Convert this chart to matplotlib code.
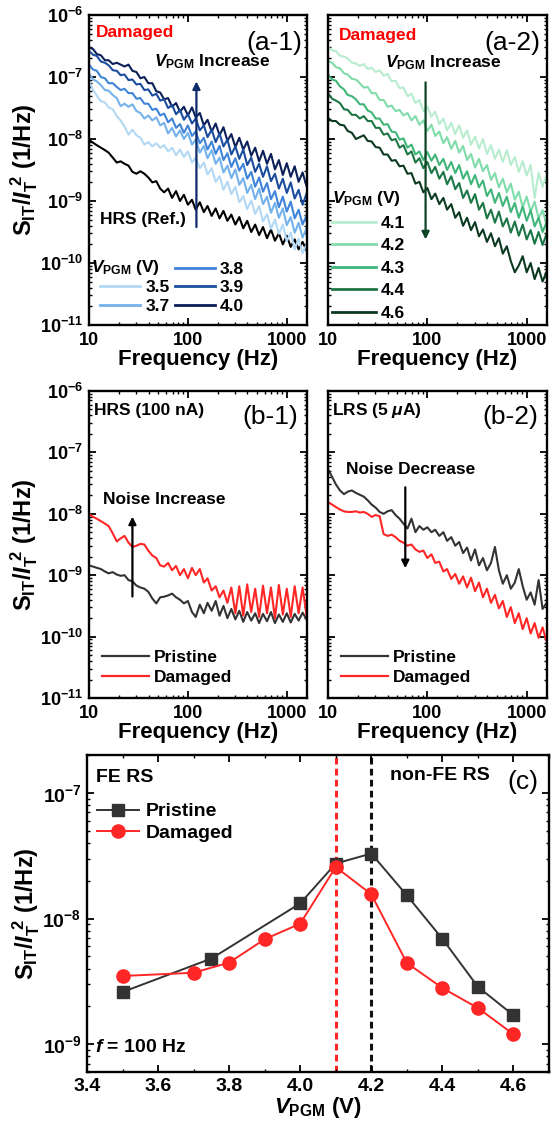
"""Noise PSD figure: spectra for damaged / pristine devices and the 100 Hz summary vs V_PGM."""

import matplotlib

matplotlib.use("Agg")
import matplotlib.pyplot as plt
import numpy as np
from matplotlib.lines import Line2D
from matplotlib.ticker import FixedLocator, FuncFormatter, LogLocator, MultipleLocator, NullFormatter

# measurement frequencies shared by every spectrum (Hz)
FREQ = [10, 11, 12, 13.2, 14.5, 15.8, 17.4, 19.1, 20.9, 22.9, 25.1, 27.5, 30.2, 33.1,
        36.3, 39.8, 43.7, 47.9, 52.5, 57.5, 63.1, 69.2, 75.9, 83.2, 91.2, 100, 110, 120,
        132, 145, 158, 174, 191, 209, 229, 251, 275, 302, 331, 363, 398, 437, 479, 525,
        575, 631, 692, 759, 832, 912, 1000, 1096, 1202, 1318, 1445, 1585]

# (a-1) damaged device, log10(S_IT/I_T^2)
A1_LABELS = ["3.5", "3.7", "3.8", "3.9", "4.0"]
A1_HRS = [-8.01, -8.06, -8.10, -8.14, -8.18, -8.22, -8.30, -8.38, -8.36, -8.40, -8.43, -8.53,
          -8.56, -8.52, -8.56, -8.62, -8.70, -8.68, -8.80, -8.86, -8.80, -8.95, -8.84, -9.00,
          -8.90, -9.06, -8.98, -9.14, -9.02, -9.18, -9.08, -9.24, -9.12, -9.28, -9.16, -9.32,
          -9.22, -9.38, -9.26, -9.44, -9.32, -9.50, -9.38, -9.55, -9.42, -9.60, -9.46, -9.64,
          -9.52, -9.70, -9.56, -9.74, -9.62, -9.78, -9.66, -9.80]
A1_V35 = [-7.06, -7.21, -7.30, -7.39, -7.41, -7.49, -7.52, -7.63, -7.70, -7.80, -7.93, -7.85,
          -7.94, -7.98, -8.09, -8.05, -8.12, -8.07, -8.14, -8.10, -8.20, -8.14, -8.26, -8.17,
          -8.29, -8.20, -8.38, -8.30, -8.47, -8.38, -8.57, -8.47, -8.69, -8.60, -8.82, -8.69,
          -8.89, -8.77, -9.02, -8.92, -9.13, -8.99, -9.21, -9.08, -9.33, -9.21, -9.45, -9.30,
          -9.53, -9.38, -9.65, -9.51, -9.78, -9.61, -9.84, -9.70]
A1_V37 = [-6.94, -7.04, -7.07, -7.13, -7.21, -7.22, -7.29, -7.34, -7.47, -7.43, -7.48, -7.44,
          -7.55, -7.58, -7.67, -7.62, -7.70, -7.65, -7.78, -7.74, -7.91, -7.82, -7.96, -7.86,
          -8.00, -7.90, -8.09, -8.01, -8.22, -8.11, -8.31, -8.18, -8.40, -8.30, -8.54, -8.43,
          -8.63, -8.49, -8.74, -8.63, -8.87, -8.74, -8.97, -8.80, -9.05, -8.93, -9.19, -9.03,
          -9.27, -9.12, -9.39, -9.26, -9.51, -9.35, -9.59, -9.44]
A1_V38 = [-6.80, -6.88, -6.90, -7.00, -7.02, -7.10, -7.10, -7.16, -7.21, -7.19, -7.26, -7.26,
          -7.35, -7.34, -7.43, -7.43, -7.53, -7.51, -7.62, -7.59, -7.73, -7.67, -7.82, -7.76,
          -7.90, -7.78, -7.95, -7.88, -8.07, -7.98, -8.17, -8.04, -8.24, -8.11, -8.34, -8.23,
          -8.45, -8.31, -8.51, -8.40, -8.64, -8.53, -8.77, -8.62, -8.85, -8.71, -8.97, -8.84,
          -9.10, -8.93, -9.17, -9.01, -9.28, -9.14, -9.38, -9.23]
A1_V39 = [-6.58, -6.64, -6.66, -6.75, -6.77, -6.81, -6.89, -6.90, -6.97, -6.96, -7.05, -7.04,
          -7.12, -7.11, -7.21, -7.20, -7.30, -7.27, -7.38, -7.36, -7.50, -7.45, -7.60, -7.53,
          -7.69, -7.60, -7.75, -7.67, -7.86, -7.78, -7.97, -7.85, -8.05, -7.91, -8.12, -8.01,
          -8.25, -8.12, -8.32, -8.17, -8.42, -8.30, -8.53, -8.40, -8.61, -8.44, -8.68, -8.56,
          -8.80, -8.64, -8.87, -8.70, -8.96, -8.82, -9.06, -8.88]
A1_V40 = [-6.52, -6.55, -6.63, -6.65, -6.73, -6.73, -6.79, -6.77, -6.80, -6.83, -6.80, -6.90,
          -6.92, -7.02, -7.00, -7.10, -7.10, -7.23, -7.25, -7.36, -7.34, -7.48, -7.42, -7.56,
          -7.48, -7.62, -7.49, -7.65, -7.58, -7.78, -7.69, -7.88, -7.75, -7.94, -7.81, -8.03,
          -7.92, -8.13, -7.98, -8.17, -8.04, -8.27, -8.14, -8.36, -8.19, -8.40, -8.24, -8.49,
          -8.34, -8.58, -8.39, -8.61, -8.44, -8.69, -8.54, -8.76]

# (a-2) damaged device, log10(S_IT/I_T^2)
A2_LABELS = ["4.1", "4.2", "4.3", "4.4", "4.6"]
A2_V41 = [-6.52, -6.57, -6.58, -6.66, -6.67, -6.70, -6.77, -6.78, -6.82, -6.79, -6.87, -6.85,
          -6.92, -6.89, -6.98, -6.95, -7.07, -7.06, -7.18, -7.17, -7.31, -7.27, -7.42, -7.37,
          -7.55, -7.48, -7.64, -7.56, -7.76, -7.67, -7.86, -7.74, -7.92, -7.78, -7.98, -7.86,
          -8.09, -7.96, -8.15, -8.00, -8.24, -8.10, -8.32, -8.17, -8.37, -8.18, -8.42, -8.29,
          -8.53, -8.36, -8.59, -8.42, -8.95, -8.54, -8.77, -8.58]
A2_V42 = [-6.74, -6.77, -6.84, -6.86, -6.94, -6.96, -7.03, -7.04, -7.10, -7.17, -7.16, -7.26,
          -7.26, -7.37, -7.37, -7.48, -7.46, -7.55, -7.53, -7.62, -7.58, -7.70, -7.63, -7.77,
          -7.70, -7.87, -7.77, -7.95, -7.88, -8.07, -7.97, -8.16, -8.03, -8.22, -8.11, -8.34,
          -8.24, -8.46, -8.32, -8.52, -8.42, -8.66, -8.55, -8.78, -8.64, -8.86, -8.72, -8.98,
          -8.85, -9.10, -8.93, -9.17, -9.01, -9.28, -9.15, -9.38]
A2_V43 = [-6.96, -7.04, -7.06, -7.15, -7.20, -7.29, -7.31, -7.36, -7.44, -7.44, -7.54, -7.57,
          -7.67, -7.67, -7.77, -7.76, -7.88, -7.89, -8.01, -7.99, -8.14, -8.09, -8.25, -8.20,
          -8.34, -8.21, -8.35, -8.25, -8.42, -8.32, -8.50, -8.37, -8.55, -8.42, -8.64, -8.52,
          -8.73, -8.58, -8.78, -8.67, -8.92, -8.81, -9.03, -8.87, -9.08, -8.93, -9.18, -9.03,
          -9.27, -9.09, -9.32, -9.15, -9.41, -9.27, -9.50, -9.34]
A2_V44 = [-7.26, -7.35, -7.38, -7.42, -7.52, -7.53, -7.61, -7.61, -7.67, -7.63, -7.71, -7.71,
          -7.82, -7.82, -7.93, -7.91, -8.02, -8.00, -8.14, -8.10, -8.25, -8.20, -8.38, -8.31,
          -8.47, -8.37, -8.55, -8.45, -8.64, -8.53, -8.73, -8.60, -8.81, -8.71, -8.95, -8.83,
          -9.03, -8.89, -9.14, -9.03, -9.28, -9.14, -9.35, -9.17, -9.41, -9.28, -9.51, -9.33,
          -9.56, -9.38, -9.62, -9.47, -9.69, -9.50, -9.71, -9.53]
A2_V46 = [-7.66, -7.71, -7.71, -7.77, -7.78, -7.87, -7.90, -8.00, -7.97, -7.94, -8.03, -8.04,
          -8.13, -8.14, -8.25, -8.25, -8.35, -8.34, -8.44, -8.43, -8.56, -8.55, -8.72, -8.69,
          -8.86, -8.79, -8.97, -8.88, -9.05, -8.95, -9.14, -9.05, -9.27, -9.18, -9.40, -9.27,
          -9.47, -9.34, -9.57, -9.46, -9.66, -9.52, -9.73, -9.60, -9.85, -9.73, -9.97, -10.15,
          -10.04, -9.89, -10.15, -10.00, -10.26, -10.08, -10.30, -10.14]

# (b-1) HRS at 100 nA and (b-2) LRS at 5 uA, log10(S_IT/I_T^2)
B1_PRISTINE = [-8.84, -8.86, -8.88, -8.90, -8.94, -8.97, -8.95, -8.99, -9.01, -9.00, -9.08, -9.10,
               -9.17, -9.20, -9.22, -9.27, -9.38, -9.46, -9.36, -9.35, -9.33, -9.30, -9.36, -9.40,
               -9.46, -9.42, -9.60, -9.68, -9.48, -9.62, -9.45, -9.58, -9.42, -9.66, -9.50, -9.70,
               -9.55, -9.72, -9.58, -9.76, -9.60, -9.74, -9.62, -9.78, -9.63, -9.75, -9.60, -9.78,
               -9.64, -9.76, -9.62, -9.77, -9.63, -9.74, -9.61, -9.72]
B1_DAMAGED = [-8.00, -8.05, -8.08, -8.12, -8.16, -8.20, -8.32, -8.45, -8.40, -8.36, -8.47, -8.54,
              -8.52, -8.49, -8.50, -8.60, -8.68, -8.72, -8.84, -8.86, -8.80, -8.92, -8.85, -9.00,
              -8.90, -9.05, -8.88, -9.00, -8.90, -9.12, -9.05, -9.25, -9.18, -9.36, -9.25, -9.45,
              -9.20, -9.62, -9.18, -9.66, -9.15, -9.60, -9.22, -9.68, -9.17, -9.62, -9.20, -9.70,
              -9.16, -9.64, -9.22, -9.68, -9.18, -9.62, -9.20, -9.66]
B2_PRISTINE = [-7.27, -7.40, -7.52, -7.62, -7.68, -7.64, -7.62, -7.66, -7.69, -7.72, -7.78, -7.85,
               -7.90, -7.97, -8.00, -7.96, -7.94, -8.02, -8.08, -8.16, -8.24, -8.08, -8.30, -8.20,
               -8.26, -8.22, -8.30, -8.26, -8.36, -8.30, -8.44, -8.38, -8.52, -8.46, -8.64, -8.55,
               -8.76, -8.58, -8.84, -8.72, -8.92, -8.80, -8.54, -8.92, -9.14, -9.00, -9.22, -9.12,
               -8.90, -9.18, -9.40, -9.28, -9.48, -9.08, -9.55, -9.45]
B2_DAMAGED = [-7.81, -7.85, -7.89, -7.93, -7.96, -7.97, -7.97, -7.96, -7.98, -7.97, -8.00, -8.05,
              -8.02, -8.04, -8.33, -8.36, -8.34, -8.38, -8.44, -8.47, -8.52, -8.50, -8.58, -8.62,
              -8.60, -8.72, -8.66, -8.80, -8.78, -8.94, -8.90, -9.06, -8.98, -9.14, -9.02, -9.20,
              -9.04, -9.26, -9.12, -9.36, -9.22, -9.45, -9.32, -9.54, -9.42, -9.68, -9.52, -9.78,
              -9.62, -9.88, -9.70, -9.95, -9.78, -10.02, -9.85, -10.08]

# (c) noise at f = 100 Hz vs programming voltage
VPGM_PRISTINE = [3.5, 3.75, 4.0, 4.1, 4.2, 4.3, 4.4, 4.5, 4.6]
NOISE_PRISTINE = [2.6e-9, 4.8e-9, 1.32e-8, 2.74e-8, 3.29e-8, 1.53e-8, 6.9e-9, 2.86e-9, 1.7e-9]
VPGM_DAMAGED = [3.5, 3.7, 3.8, 3.9, 4.0, 4.1, 4.2, 4.3, 4.4, 4.5, 4.6]
NOISE_DAMAGED = [3.49e-9, 3.7e-9, 4.46e-9, 6.84e-9, 9.1e-9, 2.57e-8, 1.56e-8, 4.43e-9, 2.8e-9,
                 1.94e-9, 1.2e-9]
FE_EDGE_DAMAGED = 4.1
FE_EDGE_PRISTINE = 4.2

BLUES = ["#b3d8f4", "#74b2ec", "#3f84d8", "#1b4d9e", "#0b1f58"]
GREENS = ["#b8ecce", "#80dcaa", "#40b67a", "#1d7646", "#0c3a20"]
GREY = "#333333"
RED = "#ff2626"

YLABEL = r"$\mathrm{S_{IT}}/I_\mathrm{T}^{\ 2}$ (1/Hz)"
TEXT = 12.5


def log_label(value, _pos):
    return rf"$10^{{{int(round(np.log10(value)))}}}$"


def common_ticks(ax, size):
    ax.tick_params(which="both", direction="in", top=True, right=True, width=1.3,
                   labelsize=size)
    ax.tick_params(axis="x", pad=5)
    ax.tick_params(axis="y", pad=4)
    ax.tick_params(which="major", length=5)
    ax.tick_params(which="minor", length=2.5, width=1.0)
    for label in ax.get_xticklabels() + ax.get_yticklabels():
        label.set_fontweight("bold")
    for spine in ax.spines.values():
        spine.set_linewidth(1.7)


def style_spectrum_axis(ax, show_ylabels):
    ax.set_xscale("log")
    ax.set_yscale("log")
    ax.set_xlim(10, 1600)
    ax.set_ylim(1e-11, 1e-6)
    ax.xaxis.set_major_locator(FixedLocator([10, 100, 1000]))
    ax.xaxis.set_major_formatter(FuncFormatter(lambda v, _: f"{v:g}"))
    ax.xaxis.set_minor_locator(LogLocator(base=10, subs=np.arange(2, 10)))
    ax.xaxis.set_minor_formatter(NullFormatter())
    ax.yaxis.set_major_locator(LogLocator(base=10, numticks=10))
    ax.yaxis.set_minor_locator(LogLocator(base=10, subs=np.arange(2, 10), numticks=10))
    ax.yaxis.set_minor_formatter(NullFormatter())
    if show_ylabels:
        ax.yaxis.set_major_formatter(FuncFormatter(log_label))
        ax.set_ylabel(YLABEL, fontsize=17, fontweight="bold", labelpad=0)
    else:
        ax.yaxis.set_major_formatter(NullFormatter())
    ax.set_xlabel("Frequency (Hz)", fontsize=16, fontweight="bold", labelpad=0)
    common_ticks(ax, 13)


def plot_spectra(ax, series, colors, lw=1.5):
    freq = np.array(FREQ)
    for values, color in zip(series, colors):
        ax.plot(freq, 10 ** np.array(values), color=color, lw=lw)


def arrow(ax, x, y_from, y_to, color):
    ax.annotate("", xy=(x, y_to), xytext=(x, y_from),
                arrowprops=dict(arrowstyle="-|>", color=color, lw=1.6, mutation_scale=11,
                                shrinkA=0, shrinkB=0))


def note(ax, x, y, text, **kwargs):
    kwargs.setdefault("fontsize", TEXT)
    kwargs.setdefault("fontweight", "bold")
    ax.text(x, y, text, transform=ax.transAxes, va="center", **kwargs)


def panel_a1(ax):
    style_spectrum_axis(ax, True)
    ax.plot(FREQ, 10 ** np.array(A1_HRS), color="black", lw=1.5)
    series = [A1_V35, A1_V37, A1_V38, A1_V39, A1_V40]
    plot_spectra(ax, series[::-1], BLUES[::-1])
    arrow(ax, 122, 3.8e-10, 8.5e-8, "#0d2a6c")
    note(ax, 0.03, 0.945, "Damaged", color="red")
    note(ax, 0.98, 0.91, "(a-1)", fontsize=19, fontweight="normal", ha="right")
    note(ax, 0.30, 0.848, r"$V_\mathrm{PGM}$ Increase")
    note(ax, 0.05, 0.339, "HRS (Ref.)")
    handles = [Line2D([], [], color="none")]
    handles += [Line2D([], [], color=c, lw=2) for c in BLUES]
    ax.legend(handles, [""] + A1_LABELS, ncol=2, loc="lower left", frameon=False,
              handlelength=2.3, handletextpad=0.3, columnspacing=0.3, labelspacing=0.18,
              borderaxespad=0.45, borderpad=0.2, prop=dict(size=TEXT, weight="bold"))
    note(ax, 0.01, 0.184, r"$V_\mathrm{PGM}$ (V)")


def panel_a2(ax):
    style_spectrum_axis(ax, False)
    series = [A2_V41, A2_V42, A2_V43, A2_V44, A2_V46]
    plot_spectra(ax, series, GREENS)
    arrow(ax, 96, 8.2e-8, 2.4e-10, "#0c4424")
    note(ax, 0.05, 0.935, "Damaged", color="red")
    note(ax, 0.97, 0.91, "(a-2)", fontsize=19, fontweight="normal", ha="right")
    note(ax, 0.26, 0.845, r"$V_\mathrm{PGM}$ Increase")
    handles = [Line2D([], [], color=c, lw=2) for c in GREENS]
    ax.legend(handles, A2_LABELS, loc="lower left", frameon=False,
              title=r"$V_\mathrm{PGM}$ (V)", alignment="left",
              handlelength=2.5, handletextpad=0.3, labelspacing=0.42,
              borderaxespad=0.0, borderpad=0.25, prop=dict(size=TEXT, weight="bold"),
              title_fontproperties=dict(size=TEXT, weight="bold"))


def panel_b(ax, pristine, damaged, show_ylabels):
    style_spectrum_axis(ax, show_ylabels)
    plot_spectra(ax, [pristine, damaged], [GREY, RED])
    handles = [Line2D([], [], color=GREY, lw=1.6), Line2D([], [], color=RED, lw=1.6)]
    ax.legend(handles, ["Pristine", "Damaged"], loc="lower left", frameon=False,
              handlelength=2.7, handletextpad=0.3, labelspacing=0.3, borderaxespad=0.55,
              borderpad=0.2, prop=dict(size=TEXT, weight="bold"))


def panel_c(ax):
    ax.set_yscale("log")
    ax.set_xlim(3.4, 4.7)
    ax.set_ylim(6e-10, 2e-7)
    ax.axvline(FE_EDGE_DAMAGED, color=RED, lw=2.2, ls=(0, (2.2, 1.4)), zorder=1)
    ax.axvline(FE_EDGE_PRISTINE, color="#111111", lw=2.2, ls=(0, (2.2, 1.4)), zorder=1)
    ax.plot(VPGM_PRISTINE, NOISE_PRISTINE, color=GREY, lw=1.4, marker="s", ms=8.5,
            mfc=GREY, mec=GREY, label="Pristine", zorder=3)
    ax.plot(VPGM_DAMAGED, NOISE_DAMAGED, color=RED, lw=1.4, marker="o", ms=9.5,
            mfc=RED, mec=RED, label="Damaged", zorder=4)
    ax.xaxis.set_major_locator(MultipleLocator(0.2))
    ax.xaxis.set_major_formatter(FuncFormatter(lambda v, _: f"{v:.1f}"))
    ax.xaxis.set_minor_locator(MultipleLocator(0.1))
    ax.yaxis.set_major_locator(LogLocator(base=10, numticks=10))
    ax.yaxis.set_minor_locator(LogLocator(base=10, subs=np.arange(2, 10), numticks=10))
    ax.yaxis.set_major_formatter(FuncFormatter(log_label))
    ax.yaxis.set_minor_formatter(NullFormatter())
    ax.set_xlabel(r"$V_\mathrm{PGM}$ (V)", fontsize=16, fontweight="bold", labelpad=0)
    ax.set_ylabel(YLABEL, fontsize=17, fontweight="bold", labelpad=0)
    common_ticks(ax, 14)
    ax.tick_params(axis="x", pad=4)
    ax.legend(loc="upper left", bbox_to_anchor=(0.0, 0.88), frameon=False, handlelength=2.2,
              handletextpad=0.3, labelspacing=0.2, borderaxespad=0.1,
              prop=dict(size=14, weight="bold"))
    note(ax, 0.02, 0.93, "FE RS", fontsize=14)
    note(ax, 0.656, 0.937, "non-FE RS", fontsize=14)
    note(ax, 0.978, 0.916, "(c)", fontsize=19, fontweight="normal", ha="right")
    note(ax, 0.017, 0.076, r"$f$ = 100 Hz", fontsize=14)


def main():
    plt.rcParams["font.family"] = ["Liberation Sans", "DejaVu Sans"]
    plt.rcParams["mathtext.fontset"] = "custom"
    plt.rcParams["mathtext.rm"] = "Liberation Sans:bold"
    plt.rcParams["mathtext.it"] = "Liberation Sans:bold:italic"
    plt.rcParams["mathtext.bf"] = "Liberation Sans:bold"

    fig = plt.figure(figsize=(5.53, 11.3), dpi=100)
    ax_a1 = fig.add_axes([0.1609, 0.7124, 0.3942, 0.2743])
    ax_a2 = fig.add_axes([0.5931, 0.7124, 0.3960, 0.2743])
    ax_b1 = fig.add_axes([0.1609, 0.3823, 0.3942, 0.2717])
    ax_b2 = fig.add_axes([0.5931, 0.3823, 0.3960, 0.2717])
    ax_c = fig.add_axes([0.1573, 0.0513, 0.8354, 0.2805])

    panel_a1(ax_a1)
    panel_a2(ax_a2)

    panel_b(ax_b1, B1_PRISTINE, B1_DAMAGED, True)
    arrow(ax_b1, 27.5, 4.5e-10, 9e-9, "black")
    note(ax_b1, 0.023, 0.938, "HRS (100 nA)")
    note(ax_b1, 0.96, 0.915, "(b-1)", fontsize=19, fontweight="normal", ha="right")
    note(ax_b1, 0.065, 0.645, "Noise Increase")

    panel_b(ax_b2, B2_PRISTINE, B2_DAMAGED, False)
    arrow(ax_b2, 60, 2.7e-8, 1.3e-9, "black")
    note(ax_b2, 0.02, 0.938, r"LRS (5 $\mu$A)")
    note(ax_b2, 0.96, 0.915, "(b-2)", fontsize=19, fontweight="normal", ha="right")
    note(ax_b2, 0.08, 0.743, "Noise Decrease")

    panel_c(ax_c)

    fig.savefig("out.png", dpi=100)
    plt.close(fig)


if __name__ == "__main__":
    main()
